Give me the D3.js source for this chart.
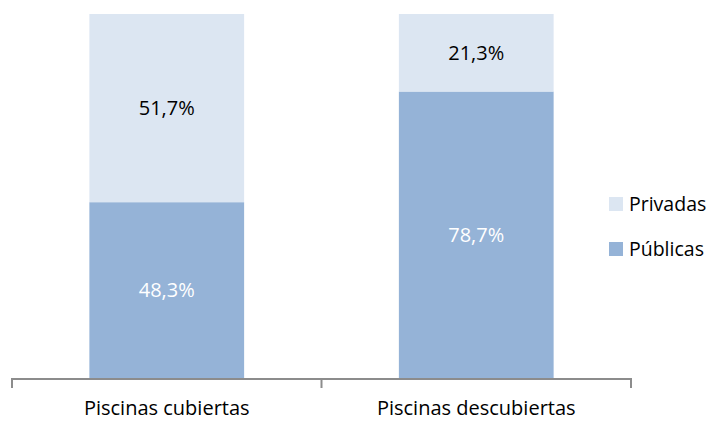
<!DOCTYPE html>
<html>
<head>
<meta charset="utf-8">
<script src="https://cdn.jsdelivr.net/npm/d3@7"></script>
<style>
  body { margin: 0; background: #fff; }
  text { font-family: "Open Sans", sans-serif; }
</style>
</head>
<body>
<svg id="chart" width="711" height="421"></svg>
<script>
// categories and the share of each kind of pool (percent)
var categories = ["Piscinas cubiertas", "Piscinas descubiertas"];
var publicas = [48.3, 78.7];
var privadas = [51.7, 21.3];
var seriesNames = ["Públicas", "Privadas"];
var colors = { "Públicas": "#95b3d7", "Privadas": "#dce6f2" };

var svg = d3.select("#chart"),
    width = +svg.attr("width"),
    height = +svg.attr("height");

var x0 = 12, x1 = 631, yTop = 14, yBase = 378;

var rows = categories.map(function(c, i) {
    return { cat: c, "Públicas": publicas[i], "Privadas": privadas[i] };
});

var stack = d3.stack().keys(seriesNames)(rows);

var x = d3.scaleBand()
    .domain(categories)
    .range([x0, x1])
    .paddingInner(0.5)
    .paddingOuter(0.25);

var y = d3.scaleLinear()
    .domain([0, 100])
    .range([yBase, yTop]);

var fmt = function(v) { return v.toFixed(1).replace(".", ",") + "%"; };

var layer = svg.selectAll(".layer")
    .data(stack)
    .enter().append("g")
    .attr("class", "layer")
    .attr("fill", function(d) { return colors[d.key]; });

layer.selectAll("rect")
    .data(function(d) { return d; })
    .enter().append("rect")
    .attr("x", function(d) { return x(d.data.cat); })
    .attr("width", x.bandwidth())
    .attr("y", function(d) { return y(d[1]); })
    .attr("height", function(d) { return y(d[0]) - y(d[1]); });

layer.selectAll("text")
    .data(function(d) { return d.map(function(p) { p.key = d.key; return p; }); })
    .enter().append("text")
    .attr("x", function(d) { return x(d.data.cat) + x.bandwidth() / 2; })
    .attr("y", function(d) { return (y(d[0]) + y(d[1])) / 2; })
    .attr("dy", "0.36em")
    .attr("text-anchor", "middle")
    .attr("font-size", 20)
    .attr("fill", function(d) { return d.key === "Públicas" ? "#ffffff" : "#000000"; })
    .text(function(d) { return fmt(d[1] - d[0]); });

// category axis with ticks between the groups
var axis = svg.append("g");
axis.append("line")
    .attr("x1", x0).attr("x2", x1)
    .attr("y1", yBase + 1).attr("y2", yBase + 1)
    .attr("stroke", "#8c8c8c").attr("stroke-width", 2);

var tickX = [x0, (x0 + x1) / 2, x1];
axis.selectAll(".tick")
    .data(tickX)
    .enter().append("line")
    .attr("x1", function(d) { return d; }).attr("x2", function(d) { return d; })
    .attr("y1", yBase).attr("y2", yBase + 10)
    .attr("stroke", "#8c8c8c").attr("stroke-width", 2);

axis.selectAll(".cat")
    .data(categories)
    .enter().append("text")
    .attr("x", function(d) { return x(d) + x.bandwidth() / 2; })
    .attr("y", 415)
    .attr("text-anchor", "middle")
    .attr("font-size", 20)
    .attr("fill", "#000")
    .text(function(d) { return d; });

// legend, Privadas on top
var legendItems = ["Privadas", "Públicas"];
var legend = svg.selectAll(".legend")
    .data(legendItems)
    .enter().append("g")
    .attr("class", "legend")
    .attr("transform", function(d, i) { return "translate(609," + (197 + i * 45) + ")"; });

legend.append("rect")
    .attr("width", 14).attr("height", 14)
    .attr("fill", function(d) { return colors[d]; });

legend.append("text")
    .attr("x", 20)
    .attr("y", 14)
    .attr("font-size", 19.5)
    .attr("fill", "#000")
    .text(function(d) { return d; });
</script>
</body>
</html>
